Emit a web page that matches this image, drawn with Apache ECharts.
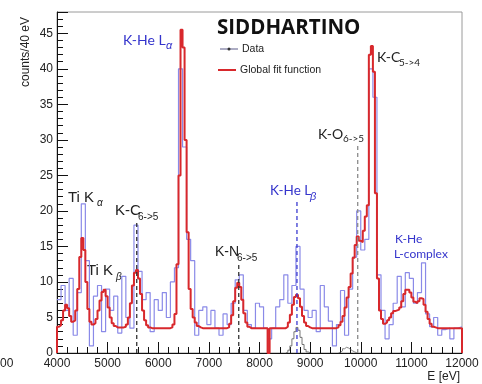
<!DOCTYPE html>
<html>
<head>
<meta charset="utf-8">
<script src="https://cdn.jsdelivr.net/npm/echarts@6/dist/echarts.min.js"></script>
<style>
  html, body { margin: 0; padding: 0; background: #fff; }
  #chart { width: 482px; height: 384px; }
</style>
</head>
<body>
<div id="chart"></div>
<script>
// histogram binning (eV)
const E_MIN = 4000
const E_MAX = 12000
const DATA_BIN = 80
const FIT_BIN = 40

// measured counts, one value per 80 eV bin starting at 4000 eV
const dataCounts = [
  7.5, 9.5, 6.0, 10.5, 2.5, 8.5, 21.0, 13.0, 1.0, 8.0,
  9.5, 3.0, 9.0, 6.0, 8.0, 2.8, 10.8, 5.0, 3.5, 18.0,
  11.5, 7.5, 8.5, 3.0, 7.5, 6.0, 8.5, 5.0, 10.0, 12.0,
  40.0, 29.0, 16.0, 13.0, 2.5, 6.0, 6.5, 4.0, 6.0, 3.5,
  2.5, 5.5, 4.0, 7.0, 10.3, 11.0, 6.0, 4.0, 3.5, 7.0,
  6.5, 3.5, 2.0, 3.5, 6.5, 7.5, 11.0, 7.0, 9.5, 15.0,
  9.0, 6.0, 5.0, 6.0, 3.0, 9.5, 6.5, 4.5, 1.0, 4.0,
  8.8, 2.5, 9.0, 13.5, 20.0, 14.5, 16.0, 40.0, 36.0, 11.0,
  6.0, 2.0, 4.0, 7.0, 10.8, 6.5, 11.3, 10.5, 7.0, 8.5,
  12.7, 5.5, 3.7, 5.0, 2.5, 3.3, 3.5, 2.0, 3.5, 3.7
]

// global fit function, one value per 40 eV bin starting at 4000 eV
const fitCounts = [
  3.7, 3.9, 4.6, 6.0, 6.8, 6.3, 5.2, 4.4, 4.6, 6.0,
  9.0, 13.5, 16.2, 14.5, 10.0, 6.2, 4.4, 4.0, 4.2, 4.8,
  6.0, 7.4, 8.6, 8.9, 8.0, 6.4, 5.0, 4.2, 3.8, 3.6,
  3.6, 3.6, 3.6, 3.7, 4.0, 5.0, 7.0, 9.5, 11.3, 11.7,
  10.5, 8.3, 6.0, 4.6, 3.9, 3.6, 3.5, 3.5, 3.5, 3.5,
  3.5, 3.5, 3.5, 3.5, 3.5, 3.5, 3.6, 4.0, 5.5, 12.5,
  25.0, 45.5, 43.0, 30.0, 17.0, 9.0, 6.2, 5.0, 4.3, 3.8,
  3.6, 3.5, 3.5, 3.5, 3.5, 3.5, 3.5, 3.5, 3.5, 3.5,
  3.5, 3.5, 3.5, 3.5, 3.6, 4.1, 5.3, 7.3, 9.2, 9.9,
  9.3, 7.5, 5.6, 4.3, 3.7, 3.5, 3.5, 3.5, 3.5, 3.5,
  3.5, 3.5, 3.5, 3.5, 0.0, 3.5, 3.5, 3.5, 3.5, 3.5,
  3.5, 3.5, 3.5, 3.7, 4.3, 5.4, 6.8, 7.9, 8.2, 7.7,
  6.5, 5.2, 4.3, 3.8, 3.6, 3.5, 3.5, 3.5, 3.5, 3.5,
  3.5, 3.5, 3.5, 3.5, 3.5, 3.5, 3.5, 3.5, 3.6, 3.9,
  4.4, 5.2, 6.4, 7.8, 9.3, 11.2, 13.4, 15.2, 16.4, 15.8,
  15.6, 17.2, 19.2, 20.8, 42.0, 43.2, 39.6, 22.5, 10.5, 6.0,
  4.8, 4.1, 4.3, 4.6, 5.0, 5.6, 5.9, 6.0, 6.1, 6.4,
  7.3, 8.3, 8.9, 8.9, 8.5, 7.8, 7.2, 7.0, 7.3, 7.7,
  7.6, 6.8, 5.8, 4.8, 4.1, 3.7, 3.6, 3.5, 3.5, 3.5,
  3.5, 3.5, 3.5, 3.5, 3.5, 3.5, 3.5, 3.5, 3.5, 3.5
]

// single-line components drawn near the baseline (40 eV bins)
const lbetaStart = 8520
const lbetaCounts = [0.1, 0.4, 1.0, 2.0, 3.0, 3.6, 3.2, 2.2, 1.2, 0.5, 0.15, 0.05]
const koStart = 9560
const koCounts = [0.1, 0.3, 0.6, 0.8, 0.7, 0.5, 0.3, 0.15, 0.05]

// transition energies marked with dashed lines
const lineEnergy = [5575, 7590, 8740, 9940]
const lineHeight = [18.5, 12.5, 21.5, 29.5]
const lineColor = ['#333', '#333', '#3a3ad0', '#8a8a8a']

const FONT = '"Liberation Sans", Arial, sans-serif'
const CAL = 'Lato, "Open Sans", sans-serif'
const BLUE = '#3434cc'

function histPoints(start, width, vals, closed) {
  const pts = vals.map((v, i) => [start + i * width, v])
  pts.push([start + vals.length * width, vals[vals.length - 1]])
  if (closed) {
    pts.unshift([start, 0])
    pts.push([start + vals.length * width, 0])
  }
  return pts
}

function txt(x, y, text, opt) {
  return {
    type: 'text', x, y, silent: true,
    style: Object.assign({
      text, fill: '#222', fontFamily: FONT, fontSize: 15,
      align: 'left', verticalAlign: 'middle'
    }, opt || {})
  }
}

const graphics = [
  txt(217, 28, 'SIDDHARTINO', { fontFamily: '"Open Sans", sans-serif', fontWeight: 'bold', fontSize: 20.5, fill: '#111' }),
  // legend
  { type: 'line', silent: true, shape: { x1: 220, y1: 49, x2: 238, y2: 49 }, style: { stroke: '#5a5a88', lineWidth: 1 } },
  { type: 'circle', silent: true, shape: { cx: 229, cy: 49, r: 1.5 }, style: { fill: '#333' } },
  txt(242, 49, 'Data', { fontSize: 10.5 }),
  { type: 'line', silent: true, shape: { x1: 218, y1: 70, x2: 236, y2: 70 }, style: { stroke: '#d8282c', lineWidth: 2 } },
  txt(240, 70, 'Global fit function', { fontSize: 10.5 }),
  // peak labels
  txt(123, 40, 'K-He L', { fontFamily: CAL, fill: BLUE, fontSize: 14 }),
  txt(166, 46, 'α', { fontFamily: FONT, fill: BLUE, fontSize: 11, fontStyle: 'italic' }),
  txt(377, 57, 'K-C', { fontFamily: CAL, fontSize: 14 }),
  txt(399, 63, '5->4', { fontFamily: CAL, fontSize: 10 }),
  txt(318, 134, 'K-O', { fontFamily: CAL, fontSize: 14 }),
  txt(343, 139, '6->5', { fontFamily: CAL, fontSize: 10 }),
  txt(270, 191, 'K-He L', { fontFamily: CAL, fill: BLUE, fontSize: 13.5 }),
  txt(310, 197, 'β', { fontFamily: FONT, fill: BLUE, fontSize: 11, fontStyle: 'italic' }),
  txt(68, 198, 'Ti K'),
  txt(97, 203, 'α', { fontSize: 10, fontStyle: 'italic' }),
  txt(115, 211, 'K-C'),
  txt(138, 217, '6->5', { fontSize: 10 }),
  txt(87, 271, 'Ti K'),
  txt(116, 277, 'β', { fontSize: 10, fontStyle: 'italic' }),
  txt(215, 252, 'K-N', { fontSize: 14 }),
  txt(237, 258, '6->5', { fontSize: 10 }),
  txt(395, 239, 'K-He', { fontFamily: CAL, fontSize: 12, fill: BLUE }),
  txt(394, 254, 'L-complex', { fontFamily: CAL, fontSize: 12, fill: BLUE }),
  // axis titles
  Object.assign(txt(26, 52, 'counts/40 eV', { fontSize: 12, align: 'center' }), { rotation: Math.PI / 2 }),
  txt(460, 377, 'E [eV]', { fontSize: 12, align: 'right' }),
  txt(0, 364, '00', { fontSize: 12 })
]

const series = [
  {
    name: 'Data', type: 'line', step: 'end', showSymbol: false, z: 2,
    data: histPoints(E_MIN, DATA_BIN, dataCounts, false),
    lineStyle: { color: '#8a8ae8', width: 1.2 }
  },
  {
    name: 'Global fit function', type: 'line', step: 'end', showSymbol: false, z: 3,
    data: histPoints(E_MIN, FIT_BIN, fitCounts, true),
    lineStyle: { color: '#d8282c', width: 2 }
  },
  {
    type: 'line', step: 'end', showSymbol: false, z: 2,
    data: histPoints(lbetaStart, FIT_BIN, lbetaCounts, true),
    lineStyle: { color: '#555', width: 0.8 }
  },
  {
    type: 'line', step: 'end', showSymbol: false, z: 2,
    data: histPoints(koStart, FIT_BIN, koCounts, true),
    lineStyle: { color: '#666', width: 0.8 }
  }
]

lineEnergy.forEach((e, i) => {
  series.push({
    type: 'line', showSymbol: false, z: 4,
    data: [[e, 0], [e, lineHeight[i]]],
    lineStyle: { color: lineColor[i], width: 1.3, type: [4, 3] }
  })
})

const axisText = { fontFamily: FONT, fontSize: 12, color: '#222' }

const chart = echarts.init(document.getElementById('chart'), null, { renderer: 'canvas' })
chart.setOption({
  animation: false,
  backgroundColor: '#fff',
  grid: {
    left: 57, right: 20, top: 12, bottom: 31,
    show: true, borderColor: '#9a9a9a', borderWidth: 1,
    outerBoundsMode: 'none'
  },
  xAxis: {
    type: 'value', min: E_MIN, max: E_MAX, interval: 1000,
    axisLine: { lineStyle: { color: '#111', width: 1 } },
    axisTick: { inside: true, length: 11, lineStyle: { color: '#111' } },
    minorTick: { show: true, splitNumber: 5, length: 6, lineStyle: { color: '#111' } },
    axisLabel: Object.assign({ margin: 5, formatter: v => String(v) }, axisText),
    splitLine: { show: false }
  },
  yAxis: [
    {
      type: 'value', min: 0, max: 48, interval: 5, position: 'left',
      axisLine: { show: true, lineStyle: { color: '#111', width: 1 } },
      axisTick: { show: true, inside: true, length: 11, lineStyle: { color: '#111' } },
      axisLabel: Object.assign({ margin: 4, formatter: v => (v % 5 === 0 ? String(v) : '') }, axisText),
      splitLine: { show: false }
    },
    {
      type: 'value', min: 0, max: 48, interval: 1, position: 'left',
      axisLine: { show: false },
      axisTick: { show: true, inside: true, length: 6, lineStyle: { color: '#111' } },
      axisLabel: { show: false },
      splitLine: { show: false }
    }
  ],
  graphic: graphics,
  series
})
</script>
</body>
</html>
